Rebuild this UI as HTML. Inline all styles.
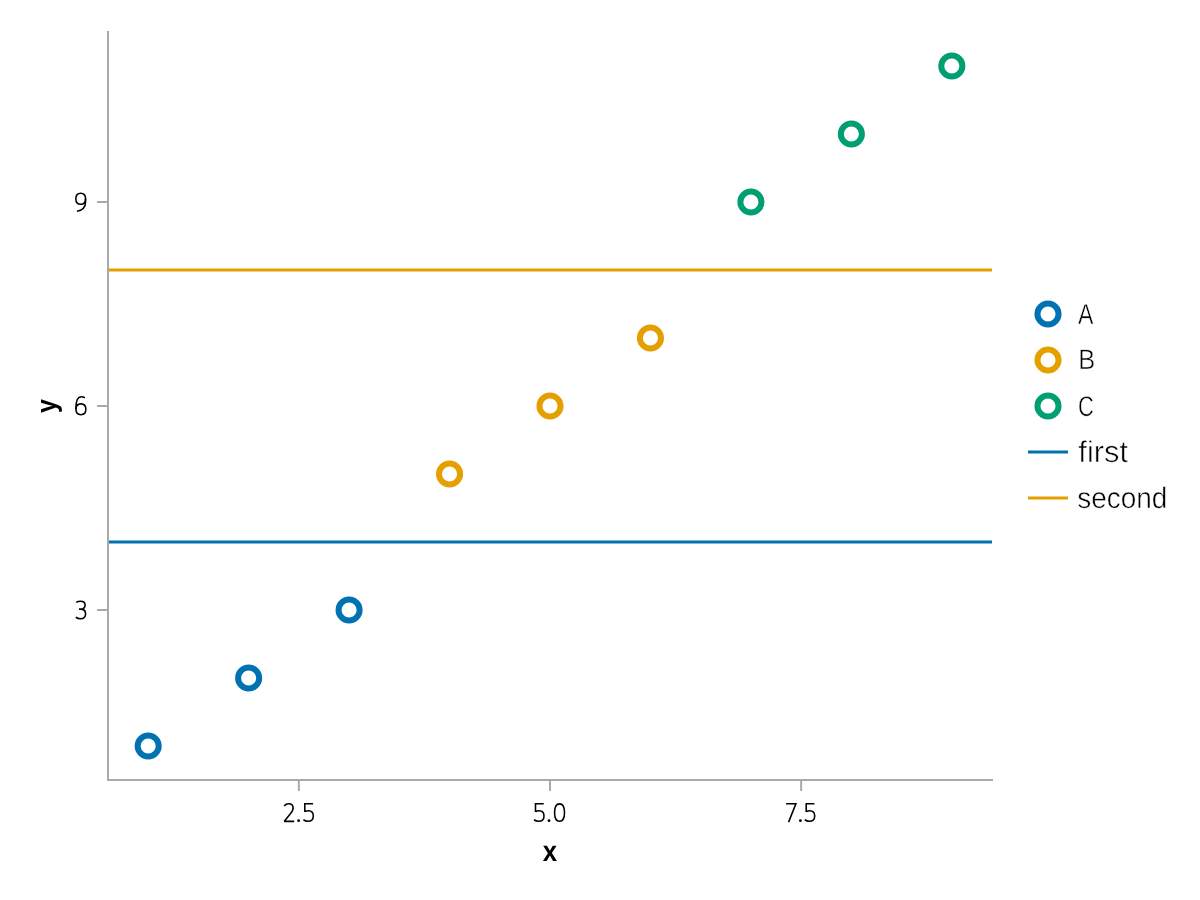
<!DOCTYPE html>
<html><head><meta charset="utf-8"><style>
html,body{margin:0;padding:0;background:#fff;width:1200px;height:900px;overflow:hidden}
svg{display:block;will-change:transform}
text{text-rendering:geometricPrecision}
.tl{font-family:"Liberation Sans",sans-serif;font-size:28px;fill:#000;stroke:#fff;stroke-width:0.5px;}
.al{font-family:"Liberation Sans",sans-serif;font-size:29px;font-weight:bold;fill:#000}
</style></head><body>
<svg width="1200" height="900" viewBox="0 0 1200 900">
<rect width="1200" height="900" fill="#fff"/>
<line x1="108" y1="542.0" x2="992" y2="542.0" stroke="#0072b2" stroke-width="3"/>
<line x1="108" y1="270.0" x2="992" y2="270.0" stroke="#e69f00" stroke-width="3"/>
<circle cx="148.18" cy="746.00" r="10.55" fill="#fff" stroke="#0072b2" stroke-width="6.0"/>
<circle cx="248.64" cy="678.00" r="10.55" fill="#fff" stroke="#0072b2" stroke-width="6.0"/>
<circle cx="349.09" cy="610.00" r="10.55" fill="#fff" stroke="#0072b2" stroke-width="6.0"/>
<circle cx="449.55" cy="474.00" r="10.55" fill="#fff" stroke="#e69f00" stroke-width="6.0"/>
<circle cx="550.00" cy="406.00" r="10.55" fill="#fff" stroke="#e69f00" stroke-width="6.0"/>
<circle cx="650.45" cy="338.00" r="10.55" fill="#fff" stroke="#e69f00" stroke-width="6.0"/>
<circle cx="750.91" cy="202.00" r="10.55" fill="#fff" stroke="#009e73" stroke-width="6.0"/>
<circle cx="851.36" cy="134.00" r="10.55" fill="#fff" stroke="#009e73" stroke-width="6.0"/>
<circle cx="951.82" cy="66.00" r="10.55" fill="#fff" stroke="#009e73" stroke-width="6.0"/>
<rect x="107" y="31" width="2" height="750" fill="#a9a9a9"/>
<rect x="107" y="779" width="886" height="2" fill="#a9a9a9"/>
<rect x="97" y="609.0" width="11" height="2" fill="#a9a9a9"/>
<rect x="97" y="405.0" width="11" height="2" fill="#a9a9a9"/>
<rect x="97" y="201.0" width="11" height="2" fill="#a9a9a9"/>
<rect x="297.86" y="780" width="2" height="11" fill="#a9a9a9"/>
<rect x="549.00" y="780" width="2" height="11" fill="#a9a9a9"/>
<rect x="800.14" y="780" width="2" height="11" fill="#a9a9a9"/>
<text transform="matrix(0.88893,0,0,0.99408,61.076,4.506) translate(550.00,862.00)" text-anchor="middle" class="al">x</text>
<text transform="matrix(0.97961,0,0,0.86660,1.960,54.093) translate(55.50,406.00) rotate(-90)" text-anchor="middle" class="al">y</text>
<text transform="matrix(0.82401,0,0,1.02908,189.138,-9.315) translate(1078.70,323.50)" text-anchor="start" class="tl">A</text>
<text transform="matrix(0.90976,0,0,0.99846,96.992,0.469) translate(1078.70,369.50)" text-anchor="start" class="tl">B</text>
<text transform="matrix(0.78089,0,0,1.01473,235.757,-5.632) translate(1078.70,415.50)" text-anchor="start" class="tl">C</text>
<text transform="matrix(1.10344,0,0,1.07540,-111.952,-34.217) translate(1078.70,461.50)" text-anchor="start" class="tl">first</text>
<text transform="matrix(0.99910,0,0,1.05544,-0.540,-27.617) translate(1078.70,507.50)" text-anchor="start" class="tl">second</text>
<g fill="none" stroke="#000" stroke-width="1.55"><path d="M80.90,403.85 C83.97,403.85 85.85,405.90 85.85,409.25 C85.85,412.60 83.97,414.65 80.90,414.65 C77.83,414.65 75.95,412.60 75.95,409.25 C75.95,405.90 77.83,403.85 80.90,403.85 Z"/><path d="M84.9,397.75 C83.7,397.0 82.5,396.8 81.2,396.8 C77.3,396.8 75.95,400.8 75.95,408 L75.95,409.3"/></g>
<path fill="none" stroke="#000" stroke-width="1.55" d="M76.2,602.4 C77.4,601.6 78.8,601.2 80.4,601.2 C83.3,601.2 85.1,602.6 85.1,604.9 C85.1,607.6 83.0,609.1 80.3,609.1 L79.0,609.1 M80.3,609.1 C83.9,609.1 85.6,611.0 85.6,613.8 C85.6,617.0 83.4,618.8 80.5,618.8 C78.6,618.8 77.0,618.3 75.8,617.1"/>
<path fill="none" stroke="#000" stroke-width="1.55" stroke-linejoin="bevel" d="M284.2,805.9 C285.3,804.5 286.9,803.8 288.7,803.8 C291.4,803.8 293.1,805.5 293.1,808.0 C293.1,810.6 291.6,812.6 289.6,814.7 L284.3,821.35 L294.2,821.35"/><path fill="none" stroke="#000" stroke-width="1.55" d="M313.05,803.75 L304.80,803.75 L304.80,811.9 M304.80,811.6 C305.90,810.95 307.10,810.7 308.50,810.7 C311.50,810.7 313.30,813.0 313.30,816.0 C313.30,819.3 311.00,821.3 307.90,821.3 C306.10,821.3 304.50,820.7 303.40,819.6"/><circle cx="298.6" cy="820.7" r="1.4" fill="#000"/>
<path fill="none" stroke="#000" stroke-width="1.55" d="M543.75,803.75 L535.50,803.75 L535.50,811.9 M535.50,811.6 C536.60,810.95 537.80,810.7 539.20,810.7 C542.20,810.7 544.00,813.0 544.00,816.0 C544.00,819.3 541.70,821.3 538.60,821.3 C536.80,821.3 535.20,820.7 534.10,819.6"/><path fill="none" stroke="#000" stroke-width="1.55" d="M559.55,803.87 C562.84,803.87 564.53,806.84 564.53,812.60 C564.53,818.36 562.84,821.33 559.55,821.33 C556.26,821.33 554.57,818.36 554.57,812.60 C554.57,806.84 556.26,803.87 559.55,803.87 Z"/><circle cx="549.0" cy="820.7" r="1.4" fill="#000"/>
<path fill="none" stroke="#000" stroke-width="1.55" d="M786.1,803.8 L795.9,803.8 L788.6,822.1 M814.45,803.75 L806.20,803.75 L806.20,811.9 M806.20,811.6 C807.30,810.95 808.50,810.7 809.90,810.7 C812.90,810.7 814.70,813.0 814.70,816.0 C814.70,819.3 812.40,821.3 809.30,821.3 C807.50,821.3 805.90,820.7 804.80,819.6"/><circle cx="800.4" cy="820.7" r="1.4" fill="#000"/>
<g fill="none" stroke="#000" stroke-width="1.55"><path d="M80.70,193.15 C83.71,193.15 85.55,195.26 85.55,198.70 C85.55,202.14 83.71,204.25 80.70,204.25 C77.69,204.25 75.85,202.14 75.85,198.70 C75.85,195.26 77.69,193.15 80.70,193.15 Z"/><path d="M85.55,198.7 L85.55,202 C85.55,207.2 82.2,210.4 76.9,211.25"/></g>
<circle cx="1048" cy="314" r="10.55" fill="#fff" stroke="#0072b2" stroke-width="6.0"/>
<circle cx="1048" cy="360" r="10.55" fill="#fff" stroke="#e69f00" stroke-width="6.0"/>
<circle cx="1048" cy="406" r="10.55" fill="#fff" stroke="#009e73" stroke-width="6.0"/>
<rect x="1028" y="450.5" width="40" height="3" fill="#0072b2"/>
<rect x="1028" y="496.5" width="40" height="3" fill="#e69f00"/>
</svg>
</body></html>
